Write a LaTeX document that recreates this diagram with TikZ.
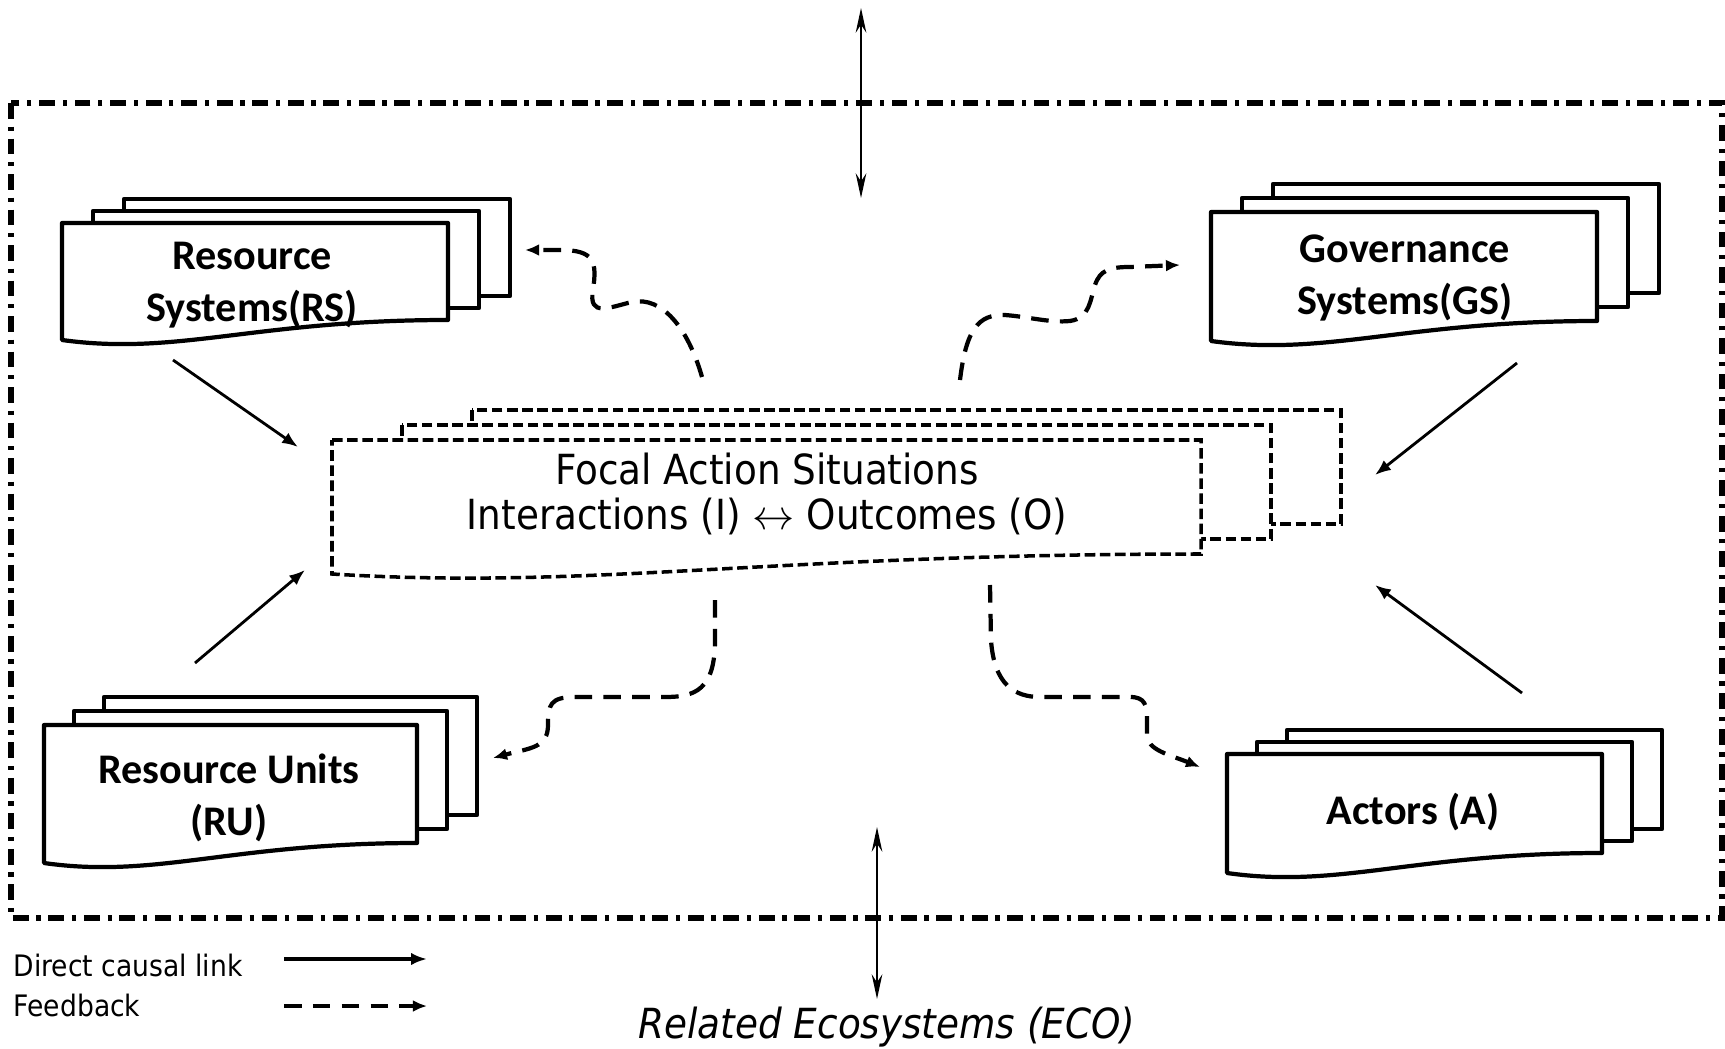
\documentclass[tikz,border=0pt]{standalone}
\usepackage{fontspec}
\setmainfont{DejaVu Sans}[FakeStretch=0.9]
\newfontfamily\boxfont{Carlito}
\usetikzlibrary{arrows.meta}

% three stacked pages: style, left, top, width, height, dx, dy
\newcommand{\pagestack}[7]{%
  \foreach \k in {2,1}{%
    \draw[#1] ({#2+\k*#6},{#3-\k*#7}) rectangle ++(#4,#5);
  }%
  \draw[#1] (#2,#3) -- ++(#4,0) -- ++(0,#5)
    .. controls ({#2+0.5*#4},{#3+#5}) and ({#2+0.3*#4},{#3+#5+36}) .. (#2,{#3+#5+20}) -- cycle;
}

\begin{document}
\begin{tikzpicture}[x=0.01cm, y=-0.01cm,
	docpage/.style={line width=1.2pt, fill=white, line join=round},
	focalpage/.style={line width=1pt, dash pattern=on 3pt off 1.3pt, fill=white},
	causal/.style={-{Latex[length=4.5pt,width=3.5pt]}, line width=0.8pt},
	feedback/.style={-{Latex[length=4pt,width=3.4pt]}, line width=1.2pt, dash pattern=on 5pt off 3.2pt},
	exchange/.style={{Stealth[length=7pt,width=3pt]}-{Stealth[length=7pt,width=3pt]}, line width=0.7pt},
	boxlabel/.style={font=\boxfont\bfseries\fontsize{12}{14.6}\selectfont, align=center},
	focallabel/.style={font=\fontsize{11.8}{13}\selectfont, align=center},
	legendlabel/.style={anchor=west, inner sep=0pt, font=\fontsize{8.4}{10}\selectfont}]
		\useasboundingbox (0,0) rectangle (1725,1049);

		% system boundary
		\draw[line width=1.5pt, dash pattern=on 4.5pt off 2.2pt on 1.2pt off 2.2pt] (11,103) rectangle (1722,918);

		\pagestack{docpage}{62}{223}{386}{97}{31}{12}
		\pagestack{docpage}{1211}{212}{386}{109}{31}{14}
		\pagestack{docpage}{44}{725}{373}{118}{30}{14}
		\pagestack{docpage}{1227}{754}{375}{99}{30}{12}
		\pagestack{focalpage}{332}{440}{869}{114}{70}{15}

		\node[boxlabel] (rs) at (252,285) {Resource\\Systems(RS)};
		\node[boxlabel] (gs) at (1405,278) {Governance\\Systems(GS)};
		\node[boxlabel] (ru) at (229,798) {Resource Units\\(RU)};
		\node[boxlabel] (act) at (1413,812) {Actors (A)};
		\node[focallabel] (fas) at (767,494) {Focal Action Situations\\Interactions (I) $\leftrightarrow$ Outcomes (O)};

		% direct links
		\coordinate (rs out) at (173,360);
		\coordinate (fas nw) at (298,447);
		\coordinate (ru out) at (195,663);
		\coordinate (fas sw) at (305,570);
		\coordinate (gs out) at (1517,363);
		\coordinate (fas ne) at (1375,475);
		\coordinate (act out) at (1522,693);
		\coordinate (fas se) at (1375,585);
		\draw[causal] (rs out) -- (fas nw);
		\draw[causal] (ru out) -- (fas sw);
		\draw[causal] (gs out) -- (fas ne);
		\draw[causal] (act out) -- (fas se);

		% feedbacks
		\coordinate (fb rs a) at (702,377);
		\coordinate (fb rs b) at (525,250);
		\coordinate (fb gs a) at (960,380);
		\coordinate (fb gs b) at (1180,265);
		\coordinate (fb ru a) at (715,600);
		\coordinate (fb ru b) at (493,758);
		\coordinate (fb act a) at (990,585);
		\coordinate (fb act b) at (1200,767);
		\draw[feedback] (fb rs a) .. controls (688,328) and (662,296) .. (632,302) .. controls (610,307) and (588,318) .. (593,290) .. controls (597,262) and (595,250) .. (560,250) -- (fb rs b);
		\draw[feedback] (fb gs a) .. controls (966,330) and (978,314) .. (1005,315) .. controls (1030,317) and (1050,323) .. (1070,321) .. controls (1090,318) and (1090,300) .. (1095,285) .. controls (1100,270) and (1110,267) .. (1130,267) -- (fb gs b);
		\draw[feedback] (fb ru a) -- (715,640) .. controls (715,690) and (695,697) .. (665,697) -- (575,697) .. controls (550,697) and (548,705) .. (548,725) .. controls (548,748) and (530,748) .. (fb ru b);
		\draw[feedback] (fb act a) -- (991,640) .. controls (994,685) and (1015,697) .. (1040,697) -- (1130,697) .. controls (1145,697) and (1147,705) .. (1147,720) -- (1147,735) .. controls (1147,750) and (1170,755) .. (fb act b);

		% related ecosystems
		\coordinate (eco top) at (861,8);
		\coordinate (sys top) at (861,198);
		\coordinate (sys bottom) at (877,827);
		\coordinate (eco bottom) at (877,999);
		\draw[exchange] (eco top) -- (sys top);
		\draw[exchange] (sys bottom) -- (eco bottom);
		\node[inner sep=0pt, font=\itshape\fontsize{11.8}{14}\selectfont] (eco) at (887,1027) {Related Ecosystems (ECO)};

		% legend
		\node[legendlabel] (lg causal) at (13,965) {Direct causal link};
		\node[legendlabel] (lg feedback) at (13,1005) {Feedback};
		\coordinate (lg causal a) at (284,959);
		\coordinate (lg causal b) at (427,959);
		\coordinate (lg feedback a) at (284,1006);
		\coordinate (lg feedback b) at (427,1006);
		\draw[causal, line width=1pt] (lg causal a) -- (lg causal b);
		\draw[feedback] (lg feedback a) -- (lg feedback b);
	\end{tikzpicture}
\end{document}
